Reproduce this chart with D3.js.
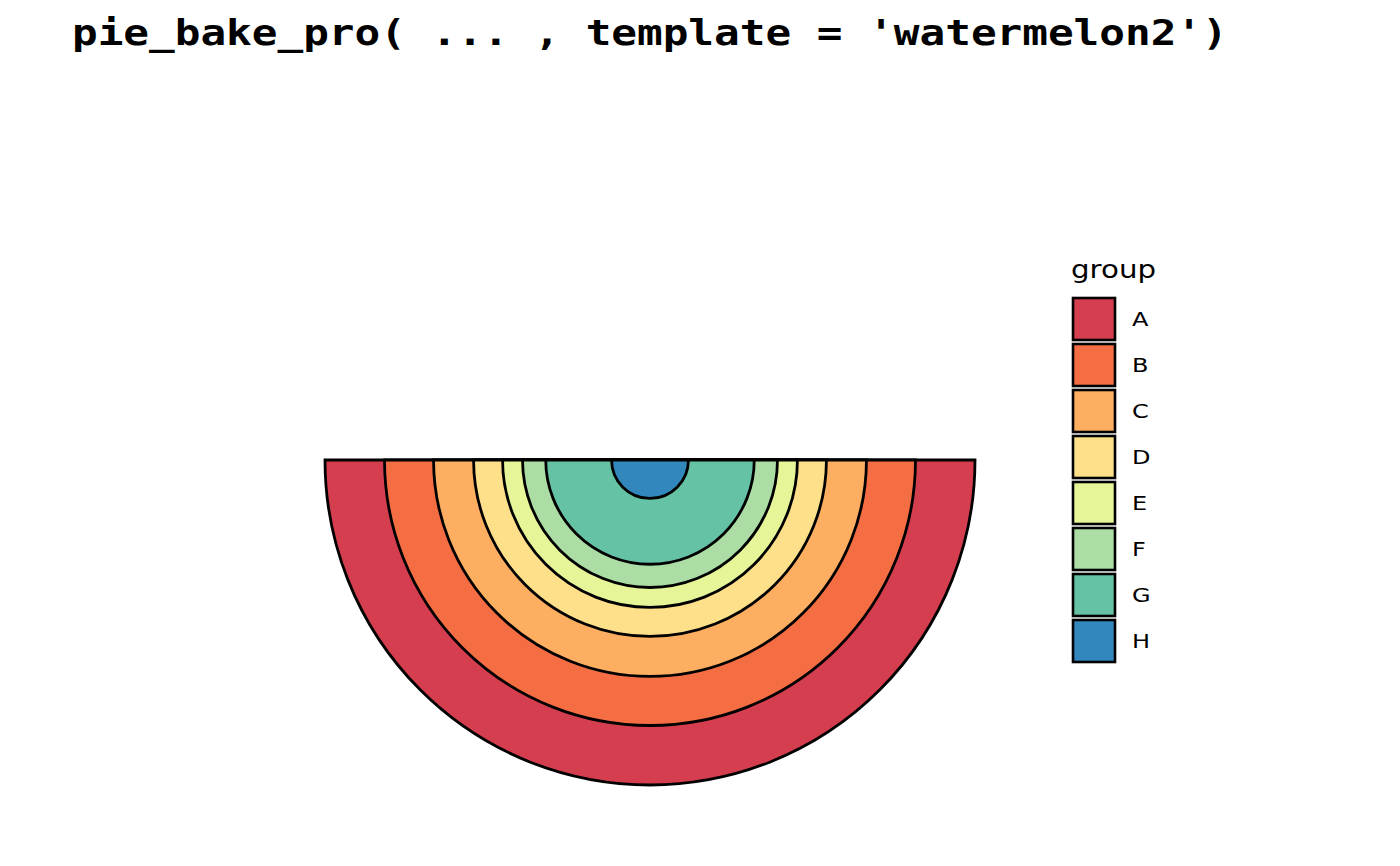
<!DOCTYPE html>
<html><head><meta charset="utf-8">
<script src="https://cdn.jsdelivr.net/npm/d3@7"></script>
<style>body{margin:0;background:#fff}svg{display:block}</style>
</head><body>
<svg id="c" width="1400" height="866"></svg>
<script>
const groups = ["A","B","C","D","E","F","G","H"];
const values = [33.3, 22.4, 14.9, 8.9, 5.2, 5.1, 8.9, 1.4];
const colors = ["#D53E4F","#F46D43","#FDAE61","#FEE08B","#E6F598","#ABDDA4","#66C2A5","#3288BD"];
const titleText = "pie_bake_pro( ... , template = 'watermelon2')";
const legendTitle = "group";

const svg = d3.select("#c");
const cx = 650, cy = 460, R = 325;

// cumulative from innermost (H) outward
const cum = {};
let s = 0;
for (let i = groups.length - 1; i >= 0; i--) { s += values[i]; cum[groups[i]] = s; }
const r = d3.scaleSqrt().domain([0, s]).range([0, R]);

const arc = d3.arc().innerRadius(0).startAngle(Math.PI/2).endAngle(3*Math.PI/2);
const g = svg.append("g").attr("transform", `translate(${cx},${cy})`);
g.selectAll("path").data(groups).join("path")
  .attr("d", d => arc({outerRadius: r(cum[d])}))
  .attr("fill", (d,i) => colors[i])
  .attr("stroke", "#000").attr("stroke-width", 2.8).attr("stroke-linejoin","miter");

svg.append("text").attr("transform", "translate(72,45) scale(1.185,1)")
  .attr("font-family", "DejaVu Sans Mono").attr("font-weight", "bold")
  .attr("font-size", 36).attr("fill", "#000").text(titleText);

const lg = svg.append("g").attr("transform", "translate(1073,298)");
lg.append("text").attr("transform", "translate(-2,-20) scale(1.22,1)").attr("font-family", "DejaVu Sans")
  .attr("font-size", 24).text(legendTitle);
const y = d3.scaleBand().domain(groups).range([0, 46*groups.length]);
const items = lg.selectAll("g.item").data(groups).join("g").attr("class","item")
  .attr("transform", d => `translate(0,${y(d)})`);
items.append("rect").attr("width", 42).attr("height", 42)
  .attr("fill", (d,i) => colors[i]).attr("stroke", "#000").attr("stroke-width", 2.6);
items.append("text").attr("transform", "translate(59,21) scale(1.2,1)").attr("dy", "0.36em")
  .attr("font-family", "DejaVu Sans").attr("font-size", 20).text(d => d);
</script>
</body></html>
